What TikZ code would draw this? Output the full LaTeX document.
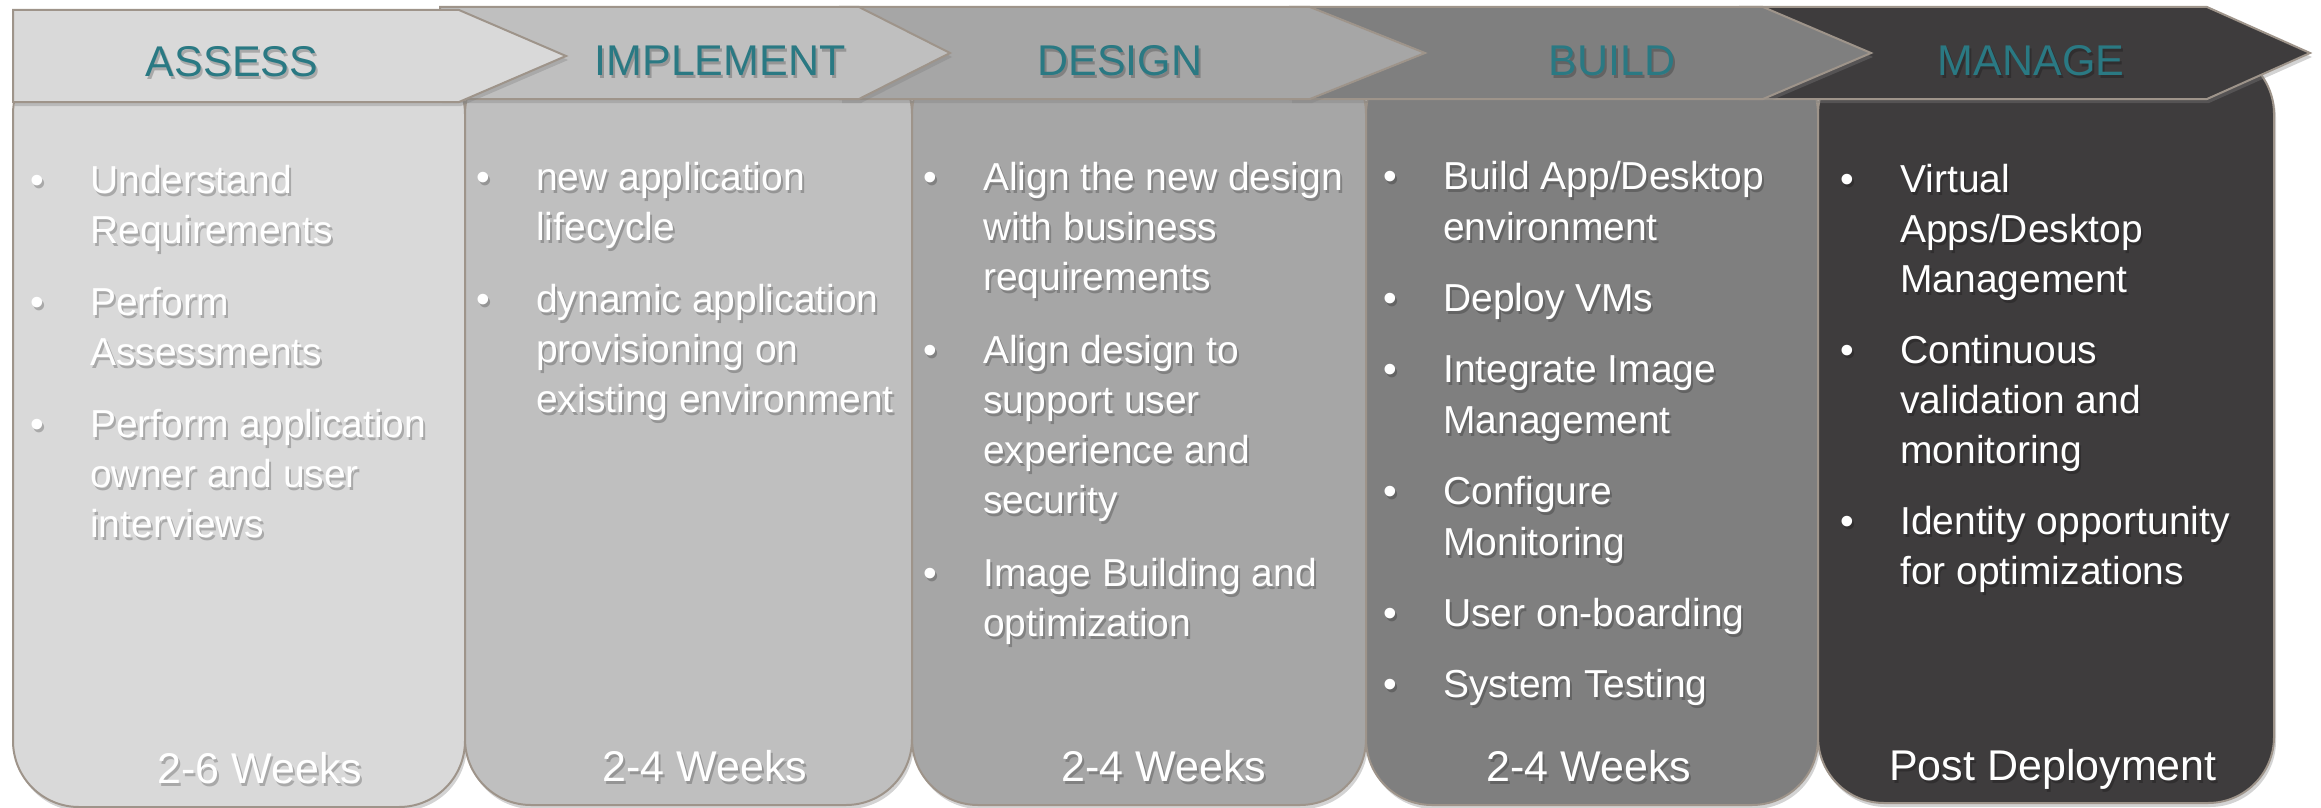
\documentclass[tikz,border=0pt]{standalone}
\usepackage{fontspec}
\setmainfont{Liberation Sans}
\usetikzlibrary{positioning,shadows}

\definecolor{edgecol}{RGB}{158,148,138}
\definecolor{phasetxt}{RGB}{42,121,131}
\definecolor{fillA}{HTML}{D9D9D9}
\definecolor{fillB}{HTML}{BFBFBF}
\definecolor{fillC}{HTML}{A6A6A6}
\definecolor{fillD}{HTML}{7F7F7F}
\definecolor{fillE}{HTML}{3E3C3D}

\tikzset{
	phase/.style={draw=edgecol, line width=2pt, drop shadow={shadow xshift=2pt, shadow yshift=-4pt, opacity=.35}},
	column/.style={phase, rounded corners=66pt},
	title/.style={text=phasetxt, font=\fontsize{43}{50}\selectfont, anchor=base, inner sep=0pt},
	weeks/.style={text=white, font=\fontsize{43}{50}\selectfont, anchor=base, inner sep=0pt},
	items/.style={text=white, anchor=base west, inner sep=0pt, font=\fontsize{39}{50}\selectfont},
}

% a list of bullets; first line sits on the node's baseline
\newcommand{\blist}[2]{\vtop{\hsize=470pt\parindent=0pt\parskip=#1\rightskip=0pt plus 1fil #2}}
% one bullet, text hangs behind it
\newcommand{\bitem}[1]{\par\noindent\hangindent=60pt\hangafter=1\makebox[60pt][l]{\textbullet}#1\par}
% text with a soft shadow under it
\newcommand{\shtext}[4]{%
	\node[#2, xshift=2pt, yshift=-3pt, text=black, text opacity=.22] (#1-sh) at #3 {#4};
	\node[#2] (#1) at #3 {#4};}

\begin{document}
\begin{tikzpicture}[x=1pt, y=-1pt]
	\useasboundingbox (0,0) rectangle (2321,808);

	% columns
	\draw[column, fill=fillA] (13,48) rectangle (465,807);
	\draw[column, fill=fillB] (465,48) rectangle (912,805);
	\draw[column, fill=fillC] (912,48) rectangle (1366,805);
	\draw[column, fill=fillD] (1366,48) rectangle (1818,805);
	\draw[column, fill=fillE] (1818,48) rectangle (2274,803);

	% phase arrows, last one first
	\draw[phase, fill=fillE] (1740,7) -- (2207,7) -- (2310,53) -- (2207,99) -- (1740,99) -- cycle;
	\draw[phase, fill=fillD] (1290,7) -- (1763,7) -- (1871,53) -- (1763,99) -- (1290,99) -- cycle;
	\draw[phase, fill=fillC] (840,7) -- (1310,7) -- (1425,53) -- (1310,99) -- (840,99) -- cycle;
	\draw[phase, fill=fillB] (440,7) -- (859,7) -- (950,53) -- (859,99) -- (440,99) -- cycle;
	\draw[phase, fill=fillA] (13,10) -- (459,10) -- (566,56) -- (459,102) -- (13,102) -- cycle;

	\shtext{assess}{title}{(232,77)}{ASSESS}
	\shtext{implement}{title}{(720,75)}{IMPLEMENT}
	\shtext{design}{title}{(1120,75)}{DESIGN}
	\shtext{build}{title}{(1612,75)}{BUILD}
	\shtext{manage}{title}{(2031,75)}{MANAGE}

	% bullet lists
	\shtext{assessitems}{items}{(30,193)}{\blist{22pt}{%
		\bitem{Understand\newline Requirements}
		\bitem{Perform\newline Assessments}
		\bitem{Perform application\newline owner and user\newline interviews}}}
	\shtext{implementitems}{items}{(476,190)}{\blist{22pt}{%
		\bitem{new application\newline lifecycle}
		\bitem{dynamic application\newline provisioning on\newline existing environment}}}
	\shtext{designitems}{items}{(923,190)}{\blist{23pt}{%
		\bitem{Align the new design\newline with business\newline requirements}
		\bitem{Align design to\newline support user\newline experience and\newline security}
		\bitem{Image Building and\newline optimization}}}
	\shtext{builditems}{items, font=\fontsize{39}{51}\selectfont}{(1383,189)}{\blist{20pt}{%
		\bitem{Build App/Desktop\newline environment}
		\bitem{Deploy VMs}
		\bitem{Integrate Image\newline Management}
		\bitem{Configure\newline Monitoring}
		\bitem{User on-boarding}
		\bitem{System Testing}}}
	\shtext{manageitems}{items}{(1840,192)}{\blist{21pt}{%
		\bitem{Virtual\newline Apps/Desktop\newline Management}
		\bitem{Continuous\newline validation and\newline monitoring}
		\bitem{Identity opportunity\newline for optimizations}}}

	% durations
	\shtext{assessweeks}{weeks}{(260,783)}{2-6 Weeks}
	\shtext{implementweeks}{weeks}{(705,781)}{2-4 Weeks}
	\shtext{designweeks}{weeks}{(1164,781)}{2-4 Weeks}
	\shtext{buildweeks}{weeks}{(1589,781)}{2-4 Weeks}
	\shtext{manageweeks}{weeks}{(2053,780)}{Post Deployment}
\end{tikzpicture}
\end{document}
